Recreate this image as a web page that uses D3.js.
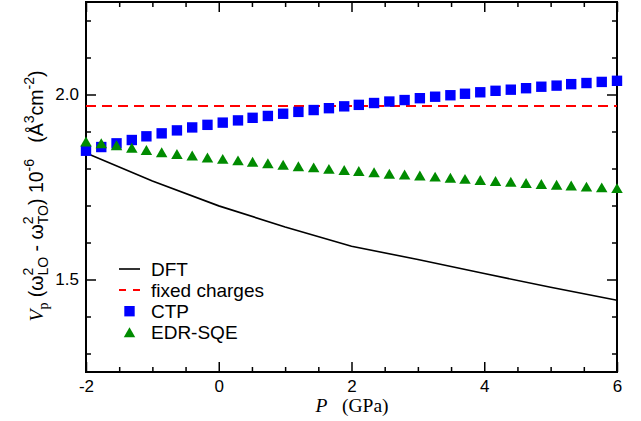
<!DOCTYPE html>
<html>
    <head>
        <script src="https://cdn.jsdelivr.net/npm/d3@7"></script>
        <style>
            body { margin: 0; background: #fff; }
            text { font-family: "Liberation Sans", Arial, sans-serif; }
        </style>
    </head>
    <body>
        <div id="viz"></div>
        <script>

            // pressure grid of the model points (GPa)
            const pressure = [-2, -1.77, -1.54, -1.31, -1.09, -0.86, -0.63, -0.4, -0.17, 0.06,
                0.29, 0.51, 0.74, 0.97, 1.2, 1.43, 1.66, 1.89, 2.11, 2.34,
                2.57, 2.8, 3.03, 3.26, 3.49, 3.71, 3.94, 4.17, 4.4, 4.63,
                4.86, 5.09, 5.31, 5.54, 5.77, 6];
            const ctp = [1.848, 1.858, 1.868, 1.877, 1.887, 1.895, 1.903, 1.911, 1.918, 1.924,
                1.930, 1.937, 1.942, 1.948, 1.953, 1.958, 1.963, 1.968, 1.972, 1.977,
                1.981, 1.985, 1.990, 1.994, 1.998, 2.002, 2.006, 2.010, 2.013, 2.017,
                2.021, 2.024, 2.028, 2.031, 2.034, 2.037];
            const edrSqe = [1.873, 1.868, 1.863, 1.856, 1.850, 1.844, 1.839, 1.835, 1.830, 1.826,
                1.822, 1.818, 1.814, 1.810, 1.806, 1.803, 1.799, 1.796, 1.793, 1.790,
                1.786, 1.784, 1.781, 1.778, 1.775, 1.772, 1.769, 1.766, 1.764, 1.761,
                1.758, 1.756, 1.754, 1.751, 1.749, 1.747];
            const dftP = [-2, -1, 0, 1, 2, 3, 4, 5, 6];
            const dft = [1.842, 1.766, 1.699, 1.642, 1.590, 1.554, 1.516, 1.479, 1.444];
            const fixedCharges = 1.969;

            const xMajor = [-2, 0, 2, 4, 6];
            const xMinor = [-1.5, -1, -0.5, 0.5, 1, 1.5, 2.5, 3, 3.5, 4.5, 5, 5.5];
            const yMajor = [1.5, 2.0];
            const yMinor = [1.3, 1.4, 1.6, 1.7, 1.8, 1.9, 2.1, 2.2];
            const legendLabels = ["DFT", "fixed charges", "CTP", "EDR-SQE"];

            const W = 641, H = 421;
            const box = {left: 86, right: 617, top: 2, bottom: 372};

            const svg = d3.select("#viz").append("svg")
                .attr("width", W).attr("height", H);

            const x = d3.scaleLinear().domain([-2, 6]).range([box.left, box.right]);
            const y = d3.scaleLinear().domain([1.25, 2.25]).range([box.bottom, box.top]);

            // axes: ticks point inwards, labels only bottom / left
            function styleAxis(g) {
                g.select(".domain").remove();
                g.selectAll("line").attr("stroke", "#000").attr("stroke-width", 1.5);
                g.selectAll("text").attr("fill", "#000").style("font-size", "17px")
                    .style("font-family", "'Liberation Sans', Arial, sans-serif");
            }
            const fmtY = d3.format(".1f");
            const fmtX = d => String(d);   // plain hyphen like the original
            svg.append("g").attr("transform", `translate(0,${box.bottom})`)
                .call(d3.axisBottom(x).tickValues(xMajor).tickSize(-10).tickPadding(8).tickFormat(fmtX))
                .call(styleAxis);
            svg.append("g").attr("transform", `translate(0,${box.bottom})`)
                .call(d3.axisBottom(x).tickValues(xMinor).tickSize(-5).tickFormat(""))
                .call(styleAxis);
            svg.append("g").attr("transform", `translate(0,${box.top})`)
                .call(d3.axisTop(x).tickValues(xMajor).tickSize(-10).tickFormat(""))
                .call(styleAxis);
            svg.append("g").attr("transform", `translate(0,${box.top})`)
                .call(d3.axisTop(x).tickValues(xMinor).tickSize(-5).tickFormat(""))
                .call(styleAxis);
            svg.append("g").attr("transform", `translate(${box.left},0)`)
                .call(d3.axisLeft(y).tickValues(yMajor).tickSize(-10).tickPadding(7).tickFormat(fmtY))
                .call(styleAxis);
            svg.append("g").attr("transform", `translate(${box.left},0)`)
                .call(d3.axisLeft(y).tickValues(yMinor).tickSize(-5).tickFormat(""))
                .call(styleAxis);
            svg.append("g").attr("transform", `translate(${box.right},0)`)
                .call(d3.axisRight(y).tickValues(yMajor).tickSize(-10).tickFormat(""))
                .call(styleAxis);
            svg.append("g").attr("transform", `translate(${box.right},0)`)
                .call(d3.axisRight(y).tickValues(yMinor).tickSize(-5).tickFormat(""))
                .call(styleAxis);

            // frame
            svg.append("rect")
                .attr("x", box.left).attr("y", box.top)
                .attr("width", box.right - box.left).attr("height", box.bottom - box.top)
                .attr("fill", "none").attr("stroke", "#000").attr("stroke-width", 2);

            // DFT line
            svg.append("path")
                .datum(dftP.map((p, i) => [p, dft[i]]))
                .attr("d", d3.line().x(d => x(d[0])).y(d => y(d[1])))
                .attr("fill", "none").attr("stroke", "#000").attr("stroke-width", 1.6);

            // fixed charges
            svg.append("line")
                .attr("x1", x(-2)).attr("x2", x(6))
                .attr("y1", y(fixedCharges)).attr("y2", y(fixedCharges))
                .attr("stroke", "#ff0000").attr("stroke-width", 2)
                .attr("stroke-dasharray", "10,6");

            const squarePath = d3.symbol().type(d3.symbolSquare).size(108)();
            // triangle centred on its bounding box
            const tri = 11.5, triH = tri * Math.sqrt(3) / 2;
            const trianglePath = `M0,${-triH / 2}L${tri / 2},${triH / 2}L${-tri / 2},${triH / 2}Z`;

            svg.append("g").selectAll("path")
                .data(pressure.map((p, i) => [p, ctp[i]]))
                .join("path")
                .attr("d", squarePath)
                .attr("transform", d => `translate(${x(d[0])},${y(d[1])})`)
                .attr("fill", "#0000ff");

            svg.append("g").selectAll("path")
                .data(pressure.map((p, i) => [p, edrSqe[i]]))
                .join("path")
                .attr("d", trianglePath)
                .attr("transform", d => `translate(${x(d[0])},${y(d[1])})`)
                .attr("fill", "#008b00");

            // legend
            const leg = svg.append("g").attr("transform", "translate(119,269)");
            const rowH = 21.1;
            leg.append("line").attr("x1", 0).attr("x2", 21).attr("y1", 0).attr("y2", 0)
                .attr("stroke", "#000").attr("stroke-width", 1.6);
            leg.append("line").attr("x1", 0).attr("x2", 21).attr("y1", rowH).attr("y2", rowH)
                .attr("stroke", "#ff0000").attr("stroke-width", 2).attr("stroke-dasharray", "7,7");
            leg.append("path").attr("d", squarePath)
                .attr("transform", `translate(10.5,${2 * rowH})`).attr("fill", "#0000ff");
            leg.append("path").attr("d", trianglePath)
                .attr("transform", `translate(10.5,${3 * rowH})`).attr("fill", "#008b00");
            leg.selectAll("text.lab").data(legendLabels).join("text")
                .attr("class", "lab")
                .attr("x", 32).attr("y", (d, i) => i * rowH)
                .attr("dy", "0.36em")
                .style("font-size", "19px")
                .text(d => d);

            // x title
            const xt = svg.append("text")
                .attr("x", 352).attr("y", 412)
                .attr("text-anchor", "middle")
                .attr("xml:space", "preserve")
                .style("font-family", "'Liberation Serif', 'Times New Roman', serif")
                .style("font-size", "19.5px");
            xt.append("tspan").style("font-style", "italic").text("P");
            xt.append("tspan").text("   (GPa)");

            // y title
            const yt = svg.append("text")
                .attr("transform", "translate(43,196) rotate(-90)")
                .attr("text-anchor", "middle")
                .attr("xml:space", "preserve")
                .style("font-size", "19.5px");
            const serif = "'Liberation Serif', 'Times New Roman', serif";
            yt.append("tspan").style("font-family", serif).style("font-style", "italic").text("V");
            yt.append("tspan").attr("dy", 5).style("font-size", "14px").style("font-family", serif).text("p");
            yt.append("tspan").attr("dy", -5).text(" (ω");
            yt.append("tspan").attr("dy", -10).style("font-size", "14px").text("2");
            yt.append("tspan").attr("dx", -7.8).attr("dy", 15).style("font-size", "14px").text("LO");
            yt.append("tspan").attr("dy", -5).text(" - ω");
            yt.append("tspan").attr("dy", -10).style("font-size", "14px").text("2");
            yt.append("tspan").attr("dx", -7.8).attr("dy", 15).style("font-size", "14px").text("TO");
            yt.append("tspan").attr("dy", -5).text(") 10");
            yt.append("tspan").attr("dy", -9).style("font-size", "14px").text("-6");
            yt.append("tspan").attr("dy", 9).text("   (Å");
            yt.append("tspan").attr("dy", -9).style("font-size", "14px").text("3");
            yt.append("tspan").attr("dy", 9).text("cm");
            yt.append("tspan").attr("dy", -9).style("font-size", "14px").text("-2");
            yt.append("tspan").attr("dy", 9).text(")");

        </script>
    </body>
</html>
